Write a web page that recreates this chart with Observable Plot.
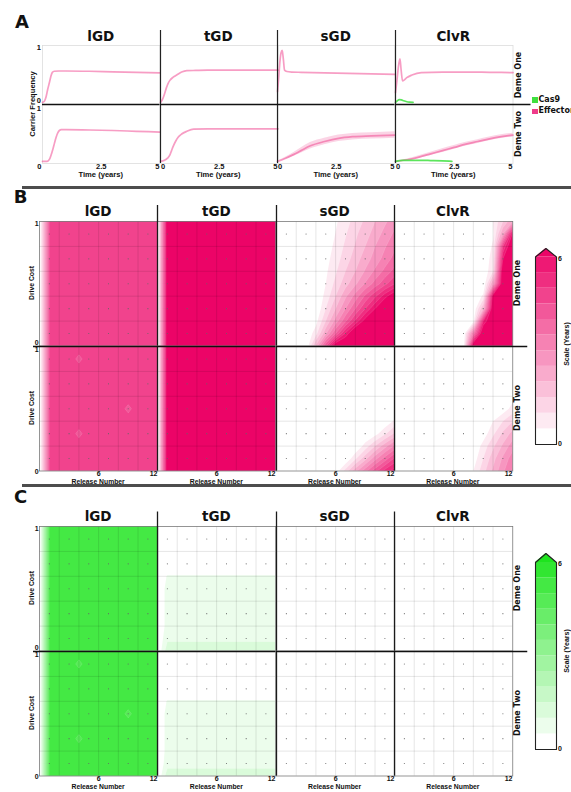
<!DOCTYPE html>
<html>
<head>
<meta charset="utf-8">
<script src="https://cdn.jsdelivr.net/npm/d3@7"></script>
<script src="https://cdn.jsdelivr.net/npm/@observablehq/plot@0.6"></script>
<style>
  html, body { margin: 0; padding: 0; background: #fff; }
  #fig { position: relative; width: 571px; height: 792px; overflow: hidden; background: #fff; }
  #fig svg { position: absolute; overflow: visible; background: transparent; max-width: none; }
  .lbl { position: absolute; white-space: nowrap; line-height: 1; font-weight: bold; color: #111; }
  .sep { position: absolute; background: #4d4d4d; }
  .sw { position: absolute; }
</style>
</head>
<body>
<div id="fig"></div>
<script>
// ---------------- shared categories and ticks ----------------
const drives = ["lGD", "tGD", "sGD", "ClvR"];
const demes = ["Deme One", "Deme Two"];
const genes = ["Cas9", "Effector"];
const timeTicks = [0, 2.5, 5];
const freqTicks = [0, 1];
const releaseTicks = [0, 6, 12];
const costTicks = [0, 1];
const releaseNumbers = [0, 1, 2, 3, 4, 5, 6, 7, 8, 9, 10, 11, 12];           // grid columns
const driveCosts = [1, 0.9, 0.8, 0.7, 0.6, 0.5, 0.4, 0.3, 0.2, 0.1, 0];      // grid rows, top to bottom
const scaleBreaks = [0.5, 1, 1.5, 2, 2.5, 3, 3.5, 4, 4.5, 5, 5.5, 6];        // years
const releaseGrid = [2, 4, 6, 8, 10];
const costGrid = [0.2, 0.4, 0.6, 0.8];
const releaseDots = [1, 3, 5, 7, 9, 11];
const costDots = [0.1, 0.3, 0.5, 0.7, 0.9];

// ---------------- A: carrier frequency over time ----------------
const lgdOneT = [0, 0.08, 0.15, 0.22, 0.3, 0.36, 0.42, 0.5, 0.7, 1, 2, 3, 4, 5];
const lgdOneF = [0, 0.02, 0.1, 0.24, 0.38, 0.49, 0.56, 0.58, 0.585, 0.585, 0.58, 0.57, 0.56, 0.55];
const lgdTwoT = [0, 0.2, 0.3, 0.36, 0.45, 0.51, 0.58, 0.65, 0.72, 0.8, 1, 2, 3, 4, 5];
const lgdTwoF = [0, 0, 0.04, 0.11, 0.24, 0.34, 0.45, 0.53, 0.575, 0.59, 0.59, 0.585, 0.575, 0.56, 0.545];
const tgdOneT = [0, 0.1, 0.18, 0.25, 0.32, 0.4, 0.54, 0.69, 0.9, 1.12, 1.5, 2, 3, 4, 5];
const tgdOneF = [0, 0.07, 0.17, 0.27, 0.35, 0.41, 0.47, 0.51, 0.565, 0.59, 0.595, 0.6, 0.6, 0.6, 0.6];
const tgdTwoT = [0, 0.17, 0.3, 0.39, 0.47, 0.54, 0.65, 0.75, 0.9, 1.12, 1.41, 2, 3, 4, 5];
const tgdTwoF = [0, 0.02, 0.06, 0.11, 0.2, 0.28, 0.38, 0.45, 0.51, 0.56, 0.6, 0.605, 0.605, 0.607, 0.607];
const sgdOneT = [0, 0.05, 0.1, 0.15, 0.2, 0.25, 0.3, 0.4, 0.6, 1, 2, 3, 4, 5];
const sgdOneF = [0.2, 0.45, 0.75, 0.92, 0.97, 0.8, 0.6, 0.575, 0.565, 0.56, 0.55, 0.54, 0.53, 0.52];
const sgdTwoT = [0, 0.3, 0.7, 1, 1.4, 2, 2.6, 3.2, 4, 5];
const sgdTwoF = [0, 0.05, 0.13, 0.2, 0.29, 0.37, 0.43, 0.46, 0.475, 0.49];
const sgdTwoLo = [0, 0.035, 0.095, 0.15, 0.23, 0.31, 0.37, 0.4, 0.415, 0.43];
const sgdTwoHi = [0, 0.065, 0.165, 0.25, 0.35, 0.43, 0.49, 0.52, 0.535, 0.55];
const clvrOneT = [0, 0.06, 0.12, 0.19, 0.24, 0.3, 0.38, 0.48, 0.7, 1.1, 2, 3, 4, 5];
const clvrOneF = [0.18, 0.4, 0.65, 0.81, 0.6, 0.4, 0.42, 0.46, 0.51, 0.555, 0.565, 0.565, 0.56, 0.555];
const clvrOneCasT = [0, 0.08, 0.16, 0.25, 0.35, 0.45, 0.6, 0.75];
const clvrOneCasF = [0, 0.03, 0.05, 0.045, 0.03, 0.015, 0.003, 0];
const clvrTwoT = [0, 0.5, 1, 1.5, 2, 2.5, 3, 3.5, 4, 4.5, 5];
const clvrTwoF = [0, 0.03, 0.08, 0.14, 0.2, 0.26, 0.32, 0.37, 0.42, 0.46, 0.49];
const clvrTwoLo = [0, 0.015, 0.055, 0.11, 0.165, 0.225, 0.285, 0.335, 0.385, 0.425, 0.455];
const clvrTwoHi = [0, 0.045, 0.105, 0.17, 0.235, 0.295, 0.355, 0.405, 0.455, 0.495, 0.525];
const clvrTwoCasT = [0, 0.3, 1, 1.5, 2, 2.4];
const clvrTwoCasF = [0, 0.02, 0.02, 0.015, 0.008, 0];

// ---------------- B: effector persistence (years) on release number x drive cost ----------------
const effLgdOne = [
  [0,4.6,4.6,4.6,4.6,4.6,4.6,4.6,4.6,4.6,4.6,4.6,4.6],
  [0,4.6,4.6,4.6,4.6,4.6,4.6,4.6,4.6,4.6,4.6,4.6,4.6],
  [0,4.6,4.6,4.6,4.6,4.6,4.6,4.6,4.6,4.6,4.6,4.6,4.6],
  [0,4.6,4.6,4.6,4.6,4.6,4.6,4.6,4.6,4.6,4.6,4.6,4.6],
  [0,4.6,4.6,4.6,4.6,4.6,4.6,4.6,4.6,4.6,4.6,4.6,4.6],
  [0,4.6,4.6,4.6,4.6,4.6,4.6,4.6,4.6,4.6,4.6,4.6,4.6],
  [0,4.6,4.6,4.6,4.6,4.6,4.6,4.6,4.6,4.6,4.6,4.6,4.6],
  [0,4.6,4.6,4.6,4.6,4.6,4.6,4.6,4.6,4.6,4.6,4.6,4.6],
  [0,4.6,4.6,4.6,4.6,4.6,4.6,4.6,4.6,4.6,4.6,4.6,4.6],
  [0,4.6,4.6,4.6,4.6,4.6,4.6,4.6,4.6,4.6,4.6,4.6,4.6],
  [0,4.6,4.6,4.6,4.6,4.6,4.6,4.6,4.6,4.6,4.6,4.6,4.6]
];
const effLgdTwo = [
  [0,4.6,4.6,4.6,4.6,4.6,4.6,4.6,4.6,4.6,4.6,4.6,4.6],
  [0,4.6,4.6,4.6,4.45,4.6,4.6,4.6,4.6,4.6,4.6,4.6,4.6],
  [0,4.6,4.6,4.6,4.6,4.6,4.6,4.6,4.6,4.6,4.6,4.6,4.6],
  [0,4.6,4.6,4.6,4.6,4.6,4.6,4.6,4.6,4.6,4.6,4.6,4.6],
  [0,4.6,4.6,4.6,4.6,4.6,4.6,4.6,4.6,4.6,4.6,4.6,4.6],
  [0,4.6,4.6,4.6,4.6,4.6,4.6,4.6,4.6,4.45,4.6,4.6,4.6],
  [0,4.6,4.6,4.6,4.6,4.6,4.6,4.6,4.6,4.6,4.6,4.6,4.6],
  [0,4.6,4.6,4.6,4.45,4.6,4.6,4.6,4.6,4.6,4.6,4.6,4.6],
  [0,4.6,4.6,4.6,4.6,4.6,4.6,4.6,4.6,4.6,4.6,4.6,4.6],
  [0,4.6,4.6,4.6,4.6,4.6,4.6,4.6,4.6,4.6,4.6,4.6,4.6],
  [0,4.6,4.6,4.6,4.6,4.6,4.6,4.6,4.6,4.6,4.6,4.6,4.6]
];
const effTgdOne = [
  [0,7,7,7,7,7,7,7,7,7,7,7,7],
  [0,7,7,7,7,7,7,7,7,7,7,7,7],
  [0,7,7,7,7,7,7,7,7,7,7,7,7],
  [0,7,7,7,7,7,7,7,7,7,7,7,7],
  [0,7,7,7,7,7,7,7,7,7,7,7,7],
  [0,7,7,7,7,7,7,7,7,7,7,7,7],
  [0,7,7,7,7,7,7,7,7,7,7,7,7],
  [0,7,7,7,7,7,7,7,7,7,7,7,7],
  [0,7,7,7,7,7,7,7,7,7,7,7,7],
  [0,7,7,7,7,7,7,7,7,7,7,7,7],
  [0,7,7,7,7,7,7,7,7,7,7,7,7]
];
const effTgdTwo = [
  [0,7,7,7,7,7,7,7,7,7,7,7,7],
  [0,7,7,7,7,7,7,7,7,7,7,7,7],
  [0,7,7,7,7,7,7,7,7,7,7,7,7],
  [0,7,7,7,7,7,7,7,7,7,7,7,7],
  [0,7,7,7,7,7,7,7,7,7,7,7,7],
  [0,7,7,7,7,7,7,7,7,7,7,7,7],
  [0,7,7,7,7,7,7,7,7,7,7,7,7],
  [0,7,7,7,7,7,7,7,7,7,7,7,7],
  [0,7,7,7,7,7,7,7,7,7,7,7,7],
  [0,7,7,7,7,7,7,7,7,7,7,7,7],
  [0,7,7,7,7,7,7,7,7,7,7,7,7]
];
const effSgdOne = [
  [0,0,0,0,0,0,0.42,0.8,1.2,1.6,2.0,2.4,2.8],
  [0,0,0,0,0,0.1,0.52,0.95,1.4,1.8,2.2,2.7,3.1],
  [0,0,0,0,0,0.2,0.64,1.1,1.55,2.0,2.5,2.95,3.4],
  [0,0,0,0,0,0.3,0.77,1.25,1.75,2.25,2.7,3.2,3.7],
  [0,0,0,0,0,0.4,0.93,1.5,2.0,2.55,3.1,3.65,4.2],
  [0,0,0,0,0,0.5,1.15,1.8,2.4,3.05,3.7,4.35,5.0],
  [0,0,0,0,0,0.67,1.5,2.4,3.2,4.1,4.9,5.8,6.6],
  [0,0,0,0,0,1.0,2.0,3.0,4.0,5.0,6.0,7,7],
  [0,0,0,0,0.3,1.5,2.7,3.9,5.1,6.3,7,7,7],
  [0,0,0,0,0.8,2.4,4.0,5.6,7,7,7,7,7],
  [0,0,0,0,2.1,4.4,6.7,7,7,7,7,7,7]
];
const effSgdTwo = [
  [0,0,0,0,0,0,0,0,0,0,0,0,0],
  [0,0,0,0,0,0,0,0,0,0,0,0,0],
  [0,0,0,0,0,0,0,0,0,0,0,0,0],
  [0,0,0,0,0,0,0,0,0,0,0,0,0],
  [0,0,0,0,0,0,0,0,0,0,0,0,0],
  [0,0,0,0,0,0,0,0,0,0,0,0,0],
  [0,0,0,0,0,0,0,0,0,0,0,0.1,0.6],
  [0,0,0,0,0,0,0,0,0,0,0.3,0.9,1.6],
  [0,0,0,0,0,0,0,0,0,0.7,1.5,2.3,3.1],
  [0,0,0,0,0,0,0,0,0.9,1.8,2.8,3.7,4.6],
  [0,0,0,0,0,0,0.2,1.2,2.3,3.3,4.3,5.2,5.8]
];
const effClvrOne = [
  [0,0,0,0,0,0,0,0,0,0,0.5,1.5,2.5],
  [0,0,0,0,0,0,0,0,0,0,0.4,2.5,6.2],
  [0,0,0,0,0,0,0,0,0,0,0.6,5.0,7],
  [0,0,0,0,0,0,0,0,0,0,0.8,6.0,7],
  [0,0,0,0,0,0,0,0,0,0,1.0,7,7],
  [0,0,0,0,0,0,0,0,0,0,2.5,7,7],
  [0,0,0,0,0,0,0,0,0,0.6,6.5,7,7],
  [0,0,0,0,0,0,0,0,0,2.0,7,7,7],
  [0,0,0,0,0,0,0,0,0.3,5.5,7,7,7],
  [0,0,0,0,0,0,0,0,3.5,7,7,7,7],
  [0,0,0,0,0,0,0,0.2,7,7,7,7,7]
];
const effClvrTwo = [
  [0,0,0,0,0,0,0,0,0,0,0,0,0],
  [0,0,0,0,0,0,0,0,0,0,0,0,0],
  [0,0,0,0,0,0,0,0,0,0,0,0,0],
  [0,0,0,0,0,0,0,0,0,0,0,0,0],
  [0,0,0,0,0,0,0,0,0,0,0,0,0.3],
  [0,0,0,0,0,0,0,0,0,0,0,0.2,0.7],
  [0,0,0,0,0,0,0,0,0,0,0.5,1.0,1.5],
  [0,0,0,0,0,0,0,0,0,0.2,0.9,1.6,2.2],
  [0,0,0,0,0,0,0,0,0,0.7,1.4,2.1,2.8],
  [0,0,0,0,0,0,0,0,0.2,1.0,1.8,2.6,3.3],
  [0,0,0,0,0,0,0,0,0.5,1.3,2.1,2.9,3.6]
];

// ---------------- C: Cas9 persistence (years) ----------------
const casLgdOne = [
  [0,5.1,5.1,5.1,5.1,5.1,5.1,5.1,5.1,5.1,5.1,5.1,5.1],
  [0,5.1,5.1,5.1,5.1,5.1,5.1,5.1,5.1,5.1,5.1,5.1,5.1],
  [0,5.1,5.1,5.1,5.1,5.1,5.1,5.1,5.1,5.1,5.1,5.1,5.1],
  [0,5.1,5.1,5.1,5.1,5.1,5.1,5.1,5.1,5.1,5.1,5.1,5.1],
  [0,5.1,5.1,5.1,5.1,5.1,5.1,5.1,5.1,5.1,5.1,5.1,5.1],
  [0,5.1,5.1,5.1,5.1,5.1,5.1,5.1,5.1,5.1,5.1,5.1,5.1],
  [0,5.1,5.1,5.1,5.1,5.1,5.1,5.1,5.1,5.1,5.1,5.1,5.1],
  [0,5.1,5.1,5.1,5.1,5.1,5.1,5.1,5.1,5.1,5.1,5.1,5.1],
  [0,5.1,5.1,5.1,5.1,5.1,5.1,5.1,5.1,5.1,5.1,5.1,5.1],
  [0,5.1,5.1,5.1,5.1,5.1,5.1,5.1,5.1,5.1,5.1,5.1,5.1],
  [0,5.1,5.1,5.1,5.1,5.1,5.1,5.1,5.1,5.1,5.1,5.1,5.1]
];
const casLgdTwo = [
  [0,5.1,5.1,5.1,5.1,5.1,5.1,5.1,5.1,5.1,5.1,5.1,5.1],
  [0,5.1,5.1,5.1,4.95,5.1,5.1,5.1,5.1,5.1,5.1,5.1,5.1],
  [0,5.1,5.1,5.1,5.1,5.1,5.1,5.1,5.1,5.1,5.1,5.1,5.1],
  [0,5.1,5.1,5.1,5.1,5.1,5.1,5.1,5.1,5.1,5.1,5.1,5.1],
  [0,5.1,5.1,5.1,5.1,5.1,5.1,5.1,5.1,5.1,5.1,5.1,5.1],
  [0,5.1,5.1,5.1,5.1,5.1,5.1,5.1,5.1,4.95,5.1,5.1,5.1],
  [0,5.1,5.1,5.1,5.1,5.1,5.1,5.1,5.1,5.1,5.1,5.1,5.1],
  [0,5.1,5.1,5.1,4.95,5.1,5.1,5.1,5.1,5.1,5.1,5.1,5.1],
  [0,5.1,5.1,5.1,5.1,5.1,5.1,5.1,5.1,5.1,5.1,5.1,5.1],
  [0,5.1,5.1,5.1,5.1,5.1,5.1,5.1,5.1,5.1,5.1,5.1,5.1],
  [0,5.1,5.1,5.1,5.1,5.1,5.1,5.1,5.1,5.1,5.1,5.1,5.1]
];
const casTgdOne = [
  [0,0,0,0,0,0,0,0,0,0,0,0,0],
  [0,0,0,0,0,0,0,0,0,0,0,0,0],
  [0,0,0,0,0,0,0,0,0,0,0,0,0],
  [0,0,0,0,0,0,0,0,0,0,0,0,0],
  [0,0.55,0.55,0.55,0.55,0.55,0.55,0.55,0.55,0.55,0.55,0.55,0.55],
  [0,0.7,0.7,0.7,0.7,0.7,0.7,0.7,0.7,0.7,0.7,0.7,0.7],
  [0,0.7,0.7,0.7,0.7,0.7,0.7,0.7,0.7,0.7,0.7,0.7,0.7],
  [0,0.7,0.7,0.7,0.7,0.7,0.7,0.7,0.7,0.7,0.7,0.7,0.7],
  [0,0.7,0.7,0.7,0.7,0.7,0.7,0.7,0.7,0.7,0.7,0.7,0.7],
  [0,0.9,0.9,0.9,0.9,0.9,0.9,0.9,0.9,0.9,0.9,0.9,0.9],
  [0,1.3,1.3,1.3,1.3,1.3,1.3,1.3,1.3,1.3,1.3,1.3,1.3]
];
const casTgdTwo = [
  [0,0,0,0,0,0,0,0,0,0,0,0,0],
  [0,0,0,0,0,0,0,0,0,0,0,0,0],
  [0,0,0,0,0,0,0,0,0,0,0,0,0],
  [0,0,0,0,0,0,0,0,0,0,0,0,0],
  [0,0.55,0.55,0.55,0.55,0.55,0.55,0.55,0.55,0.55,0.55,0.55,0.55],
  [0,0.7,0.7,0.7,0.7,0.7,0.7,0.7,0.7,0.7,0.7,0.7,0.7],
  [0,0.7,0.7,0.7,0.7,0.7,0.7,0.7,0.7,0.7,0.7,0.7,0.7],
  [0,0.7,0.7,0.7,0.7,0.7,0.7,0.7,0.7,0.7,0.7,0.7,0.7],
  [0,0.7,0.7,0.7,0.7,0.7,0.7,0.7,0.7,0.7,0.7,0.7,0.7],
  [0,0.8,0.8,0.8,0.8,0.8,0.8,0.8,0.8,0.8,0.8,0.8,0.8],
  [0,1.3,1.3,1.3,1.3,1.3,1.3,1.3,1.3,1.3,1.3,1.3,1.3]
];
const casSgdOne = [
  [0,0,0,0,0,0,0,0,0,0,0,0,0],[0,0,0,0,0,0,0,0,0,0,0,0,0],[0,0,0,0,0,0,0,0,0,0,0,0,0],
  [0,0,0,0,0,0,0,0,0,0,0,0,0],[0,0,0,0,0,0,0,0,0,0,0,0,0],[0,0,0,0,0,0,0,0,0,0,0,0,0],
  [0,0,0,0,0,0,0,0,0,0,0,0,0],[0,0,0,0,0,0,0,0,0,0,0,0,0],[0,0,0,0,0,0,0,0,0,0,0,0,0],
  [0,0,0,0,0,0,0,0,0,0,0,0,0],[0,0,0,0,0,0,0,0,0,0,0,0,0]
];
const casSgdTwo = [
  [0,0,0,0,0,0,0,0,0,0,0,0,0],[0,0,0,0,0,0,0,0,0,0,0,0,0],[0,0,0,0,0,0,0,0,0,0,0,0,0],
  [0,0,0,0,0,0,0,0,0,0,0,0,0],[0,0,0,0,0,0,0,0,0,0,0,0,0],[0,0,0,0,0,0,0,0,0,0,0,0,0],
  [0,0,0,0,0,0,0,0,0,0,0,0,0],[0,0,0,0,0,0,0,0,0,0,0,0,0],[0,0,0,0,0,0,0,0,0,0,0,0,0],
  [0,0,0,0,0,0,0,0,0,0,0,0,0],[0,0,0,0,0,0,0,0,0,0,0,0,0]
];
const casClvrOne = [
  [0,0,0,0,0,0,0,0,0,0,0,0,0],[0,0,0,0,0,0,0,0,0,0,0,0,0],[0,0,0,0,0,0,0,0,0,0,0,0,0],
  [0,0,0,0,0,0,0,0,0,0,0,0,0],[0,0,0,0,0,0,0,0,0,0,0,0,0],[0,0,0,0,0,0,0,0,0,0,0,0,0],
  [0,0,0,0,0,0,0,0,0,0,0,0,0],[0,0,0,0,0,0,0,0,0,0,0,0,0],[0,0,0,0,0,0,0,0,0,0,0,0,0],
  [0,0,0,0,0,0,0,0,0,0,0,0,0],[0,0,0,0,0,0,0,0,0,0,0,0,0]
];
const casClvrTwo = [
  [0,0,0,0,0,0,0,0,0,0,0,0,0],[0,0,0,0,0,0,0,0,0,0,0,0,0],[0,0,0,0,0,0,0,0,0,0,0,0,0],
  [0,0,0,0,0,0,0,0,0,0,0,0,0],[0,0,0,0,0,0,0,0,0,0,0,0,0],[0,0,0,0,0,0,0,0,0,0,0,0,0],
  [0,0,0,0,0,0,0,0,0,0,0,0,0],[0,0,0,0,0,0,0,0,0,0,0,0,0],[0,0,0,0,0,0,0,0,0,0,0,0,0],
  [0,0,0,0,0,0,0,0,0,0,0,0,0],[0,0,0,0,0,0,0,0,0,0,0,0,0]
];

// ---------------- styles ----------------
const effColor = "#ef3b8a";
const casColor = "#3fe03f";
const pinkEnd = "#ec0467";
const greenEnd = "#1ee41e";
const tickFont = {fontFamily: "Liberation Sans, Arial, sans-serif", fontWeight: "bold", fill: "#111"};
const bandColors = end =>
  scaleBreaks.map((_, i) => d3.interpolateRgb("#ffffff", end)(i / scaleBreaks.length)).concat([end]);

// ---------------- tables built from the arrays ----------------
const seriesA = [
  {drive: "lGD", deme: "Deme One", gene: "Effector", t: lgdOneT, f: lgdOneF},
  {drive: "lGD", deme: "Deme Two", gene: "Effector", t: lgdTwoT, f: lgdTwoF},
  {drive: "tGD", deme: "Deme One", gene: "Effector", t: tgdOneT, f: tgdOneF},
  {drive: "tGD", deme: "Deme Two", gene: "Effector", t: tgdTwoT, f: tgdTwoF},
  {drive: "sGD", deme: "Deme One", gene: "Effector", t: sgdOneT, f: sgdOneF},
  {drive: "sGD", deme: "Deme Two", gene: "Effector", t: sgdTwoT, f: sgdTwoF, lo: sgdTwoLo, hi: sgdTwoHi},
  {drive: "ClvR", deme: "Deme One", gene: "Effector", t: clvrOneT, f: clvrOneF},
  {drive: "ClvR", deme: "Deme One", gene: "Cas9", t: clvrOneCasT, f: clvrOneCasF},
  {drive: "ClvR", deme: "Deme Two", gene: "Effector", t: clvrTwoT, f: clvrTwoF, lo: clvrTwoLo, hi: clvrTwoHi},
  {drive: "ClvR", deme: "Deme Two", gene: "Cas9", t: clvrTwoCasT, f: clvrTwoCasF}
];
const effectorGrids = {
  lGD: [effLgdOne, effLgdTwo], tGD: [effTgdOne, effTgdTwo],
  sGD: [effSgdOne, effSgdTwo], ClvR: [effClvrOne, effClvrTwo]
};
const cas9Grids = {
  lGD: [casLgdOne, casLgdTwo], tGD: [casTgdOne, casTgdTwo],
  sGD: [casSgdOne, casSgdTwo], ClvR: [casClvrOne, casClvrTwo]
};

// ---------------- page helpers ----------------
const fig = document.getElementById("fig");
function place(svg, left, top) {
  svg.style.left = left + "px";
  svg.style.top = top + "px";
  fig.appendChild(svg);
}
function label(text, x, y, size, opts = {}) {
  const d = document.createElement("div");
  d.className = "lbl";
  d.textContent = text;
  d.style.left = x + "px";
  d.style.top = y + "px";
  d.style.fontSize = size + "px";
  d.style.fontFamily = opts.family || "'Liberation Sans', Arial, sans-serif";
  const ax = opts.anchor === "start" ? "0" : "-50%";
  d.style.transform = `translate(${ax}, -50%)` + (opts.rotate ? ` rotate(${opts.rotate}deg)` : "");
  fig.appendChild(d);
}
function separator(y) {
  const d = document.createElement("div");
  d.className = "sep";
  Object.assign(d.style, {left: "22px", top: y + "px", width: "549px", height: "2.5px"});
  fig.appendChild(d);
}
const titleFont = "'DejaVu Sans', sans-serif";

// ---------------- panel A ----------------
const A = {left: 42, right: 512, top: 45, rowH: 59, dividerTop: 30, midRight: 530};
const aColW = (A.right - A.left) / drives.length;
const aY = [-0.04, 1.06];
const aX = [timeTicks[0], timeTicks[timeTicks.length - 1]];
const aPerPx = (aY[1] - aY[0]) / A.rowH;

demes.forEach((deme, r) => drives.forEach((drive, c) => {
  const marks = [Plot.frame({stroke: "#dcdcdc", strokeWidth: 0.8})];
  for (const s of seriesA.filter(d => d.drive === drive && d.deme === deme)) {
    const pts = s.t.map((t, i) => ({t, f: s.f[i], lo: s.lo ? s.lo[i] : null, hi: s.hi ? s.hi[i] : null}));
    const color = s.gene === "Cas9" ? casColor : effColor;
    if (s.lo) marks.push(Plot.areaY(pts, {x: "t", y1: "lo", y2: "hi", fill: color, fillOpacity: 0.22, curve: "monotone-x"}));
    marks.push(Plot.line(pts, {x: "t", y: "f", stroke: color, strokeOpacity: s.gene === "Cas9" ? 0.85 : 0.5,
      strokeWidth: 1.7, curve: "monotone-x"}));
  }
  if (c > 0) marks.push(Plot.ruleX([aX[0]], {y1: aY[0], y2: r === 0 ? aY[1] + (A.top - A.dividerTop) * aPerPx : aY[1],
    stroke: "#222", strokeWidth: 1.2}));
  if (r === 1) {
    const extR = c === drives.length - 1 ? (A.midRight - A.right) * (aX[1] - aX[0]) / aColW : 0;
    marks.push(Plot.ruleY([aY[1]], {x1: aX[0], x2: aX[1] + extR, stroke: "#111", strokeWidth: 1.6}));
  }
  if (c === 0) {
    const ys = r === 0 ? freqTicks : freqTicks.filter(v => v > 0);
    marks.push(Plot.text(ys, {x: aX[0], y: d => d, text: d => String(d), textAnchor: "end", dx: -1.5, dy: r === 0 ? -1.3 : 0.9,
      lineAnchor: "middle", fontSize: 7.5, ...tickFont}));
  }
  if (r === 1) {
    const first = timeTicks[0], last = timeTicks[timeTicks.length - 1];
    const common = {x: d => d, text: d => String(d), frameAnchor: "bottom", lineAnchor: "top", dy: 0, fontSize: 7.5, ...tickFont};
    marks.push(Plot.text([first], {...common, textAnchor: c === 0 ? "end" : "start", dx: c === 0 ? -1 : 0.6}));
    marks.push(Plot.text(timeTicks.slice(1, -1), {...common, textAnchor: "middle"}));
    marks.push(Plot.text([last], {...common, textAnchor: "end", dx: -0.6}));
  }
  const svg = Plot.plot({
    width: aColW, height: A.rowH, margin: 0,
    x: {domain: aX, axis: null}, y: {domain: aY, axis: null},
    marks
  });
  place(svg, A.left + c * aColW, A.top + r * A.rowH);
}));

label("A", 22, 21.5, 18, {family: titleFont});
drives.forEach((d, c) => {
  label(d, A.left + (c + 0.5) * aColW, 36.7, 13.5, {family: titleFont});
  label("Time (years)", A.left + (c + 0.5) * aColW, 175.3, 7.6);
});
label("Carrier Frequency", 33, 104, 7.6, {rotate: -90});
demes.forEach((d, r) => label(d, 519, A.top + (r + 0.5) * A.rowH, 8, {family: titleFont, rotate: -90}));
genes.forEach((g, i) => {
  const sw = document.createElement("div");
  sw.className = "sw";
  Object.assign(sw.style, {left: "532px", top: (97.3 + i * 11.2) + "px", width: "5.5px", height: "5.5px",
    background: g === "Cas9" ? casColor : effColor});
  fig.appendChild(sw);
  label(g, 538.5, 100 + i * 11.3, 8, {family: titleFont, anchor: "start"});
});

// ---------------- panels B and C ----------------
function gridPanel(P, grids, end, letter) {
  const colors = bandColors(end);
  const colW = (P.right - P.left) / drives.length;
  const xD = [releaseNumbers[0], releaseNumbers[releaseNumbers.length - 1]];
  const yD = [driveCosts[driveCosts.length - 1], driveCosts[0]];
  const dx = releaseNumbers[1] - releaseNumbers[0];
  const dy = driveCosts[0] - driveCosts[1];
  const perPxY = (yD[1] - yD[0]) / P.rowH;
  const perPxX = (xD[1] - xD[0]) / colW;
  const dots = releaseDots.flatMap(x => costDots.map(y => ({x, y})));

  demes.forEach((deme, r) => drives.forEach((drive, c) => {
    const values = grids[drive][r].slice().reverse().flat();   // bottom row first
    const marks = [
      Plot.contour(values, {
        width: releaseNumbers.length, height: driveCosts.length,
        x1: xD[0] - dx / 2, x2: xD[1] + dx / 2, y1: yD[0] - dy / 2, y2: yD[1] + dy / 2,
        fill: Plot.identity, thresholds: scaleBreaks,
        stroke: "#ffffff", strokeOpacity: 0.3, strokeWidth: 0.4, clip: true
      }),
      Plot.ruleX(releaseGrid, {stroke: "#000", strokeOpacity: 0.15, strokeWidth: 0.7}),
      Plot.ruleY(costGrid, {stroke: "#000", strokeOpacity: 0.15, strokeWidth: 0.7}),
      Plot.dot(dots, {x: "x", y: "y", r: 0.55, fill: "#666"}),
      Plot.frame({stroke: "#7a7a7a", strokeWidth: 0.8})
    ];
    if (c > 0) marks.push(Plot.ruleX([xD[0]], {y1: yD[0], y2: r === 0 ? yD[1] + (P.top - P.dividerTop) * perPxY : yD[1],
      stroke: "#1a1a1a", strokeWidth: 1.3}));
    if (r === 1) {
      const x1 = c === 0 ? xD[0] - (P.left - P.midLeft) * perPxX : xD[0];
      const x2 = c === drives.length - 1 ? xD[1] + (P.midRight - P.right) * perPxX : xD[1];
      marks.push(Plot.ruleY([yD[1]], {x1, x2, stroke: "#111", strokeWidth: 1.7}));
    }
    if (c === 0) {
      const yt = {x: xD[0], y: d => d, text: d => String(d), textAnchor: "end", dx: -0.8, fontSize: 7, ...tickFont};
      marks.push(Plot.text(costTicks.filter(v => v === yD[1]), {...yt, lineAnchor: "top", dy: r === 0 ? -0.5 : 0.6}));
      marks.push(Plot.text(costTicks.filter(v => v === yD[0]), {...yt, lineAnchor: r === 0 ? "bottom" : "middle", dy: r === 0 ? -0.6 : 0.5}));
    }
    if (r === 1) {
      const xt = {x: d => d, text: d => String(d), frameAnchor: "bottom", lineAnchor: "top", dy: -0.3, fontSize: 7, ...tickFont};
      marks.push(Plot.text(releaseTicks.slice(1, -1), {...xt, textAnchor: "middle"}));
      marks.push(Plot.text(releaseTicks.slice(-1), {...xt, textAnchor: "end", dx: -0.3}));
    }
    const svg = Plot.plot({
      width: colW, height: P.rowH, margin: 0,
      x: {domain: xD, axis: null}, y: {domain: yD, axis: null},
      color: {type: "threshold", domain: scaleBreaks, range: colors},
      marks
    });
    place(svg, P.left + c * colW, P.top + r * P.rowH);
  }));

  // colour bar with an arrow for values beyond the last break
  const top = scaleBreaks[scaleBreaks.length - 1];
  const tip = top + P.arrowPx * top / (P.barH - P.arrowPx);
  const lows = [0, ...scaleBreaks.slice(0, -1)];
  const bands = lows.map((lo, i) => ({lo, hi: scaleBreaks[i]}));
  const arrow = [{x: 0, y: top}, {x: 0.5, y: tip}, {x: 1, y: top}];
  const outline = [{x: 0, y: 0}, {x: 0, y: top}, {x: 0.5, y: tip}, {x: 1, y: top}, {x: 1, y: 0}, {x: 0, y: 0}];
  const bar = Plot.plot({
    width: P.barW, height: P.barH, margin: 0,
    x: {domain: [0, 1], axis: null}, y: {domain: [0, tip], axis: null},
    color: {type: "threshold", domain: scaleBreaks, range: colors},
    marks: [
      Plot.rect(bands, {x1: 0, x2: 1, y1: "lo", y2: "hi", fill: "lo"}),
      Plot.areaY(arrow, {x: "x", y1: top, y2: "y", fill: end}),
      Plot.line(outline, {x: "x", y: "y", stroke: "#222", strokeWidth: 1.1}),
      Plot.text([top], {x: 1, y: d => d, text: d => String(d), textAnchor: "start", dx: 1.5, lineAnchor: "top", dy: -1, fontSize: 7, ...tickFont}),
      Plot.text([0], {x: 1, y: d => d, text: d => String(d), textAnchor: "start", dx: 1.5, lineAnchor: "bottom", dy: 1, fontSize: 7, ...tickFont})
    ]
  });
  place(bar, P.barLeft, P.barTop);

  label(letter, 20.5, P.letterY, 18, {family: titleFont});
  drives.forEach((d, c) => {
    label(d, P.left + (c + 0.5) * colW, P.titleY, 13.5, {family: titleFont});
    label("Release Number", P.left + (c + 0.5) * colW, P.top + 2 * P.rowH + 11.5, 6.8);
  });
  demes.forEach((d, r) => {
    label("Drive Cost", 32, P.top + (r + 0.5) * P.rowH, 6.8, {rotate: -90});
    label(d, 518, P.top + (r + 0.5) * P.rowH, 8, {family: titleFont, rotate: -90});
  });
  label("Scale (Years)", 566, P.scaleLabelY, 7, {rotate: -90});
}

separator(186);
gridPanel({left: 39, right: 512, top: 221, rowH: 124.5, dividerTop: 205, midLeft: 33, midRight: 527,
  titleY: 211.7, letterY: 197, barLeft: 534.5, barTop: 247.5, barW: 21, barH: 196, arrowPx: 8.5, scaleLabelY: 344},
  effectorGrids, pinkEnd, "B");
separator(484);
gridPanel({left: 39, right: 512, top: 526, rowH: 124.5, dividerTop: 511.5, midLeft: 33, midRight: 527,
  titleY: 516.7, letterY: 497, barLeft: 534.5, barTop: 552.5, barW: 21, barH: 196, arrowPx: 9, scaleLabelY: 651},
  cas9Grids, greenEnd, "C");
</script>
</body>
</html>
